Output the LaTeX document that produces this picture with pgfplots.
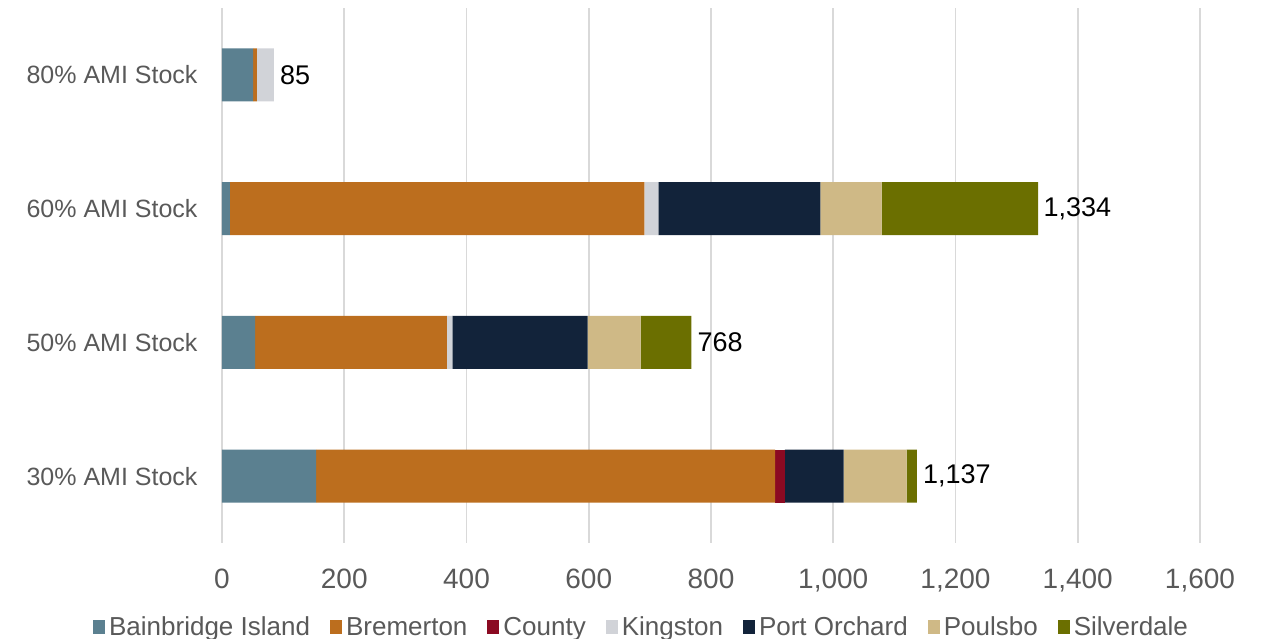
\documentclass[border=0pt]{standalone}
\usepackage{fontspec}
\setmainfont{Liberation Sans}
\usepackage{pgfplots}
\pgfplotsset{compat=1.18}
\definecolor{cBain}{HTML}{5B8090}
\definecolor{cBrem}{HTML}{BC6E1E}
\definecolor{cCounty}{HTML}{8B0A22}
\definecolor{cKing}{HTML}{D1D3D8}
\definecolor{cPort}{HTML}{12233A}
\definecolor{cPoul}{HTML}{CFB986}
\definecolor{cSilv}{HTML}{6B6F00}
\definecolor{txtgray}{HTML}{595959}
\definecolor{gridgray}{HTML}{D9D9D9}
\begin{document}
\begin{tikzpicture}
\useasboundingbox (-222pt,-96pt) rectangle (1048pt,543pt);
\begin{axis}[
  scale only axis, width=978pt, height=535pt,
  xbar stacked, bar width=53pt,
  xmin=0, xmax=1600, ymin=-0.5, ymax=3.5,
  xtick={0,200,...,1600},
  ytick={0,1,2,3},
  yticklabels={30\% AMI Stock,50\% AMI Stock,60\% AMI Stock,80\% AMI Stock},
  axis line style={draw=none},
  major tick length=0pt,
  xmajorgrids, grid style={gridgray, line width=1.6pt},
  /pgf/number format/1000 sep={,},
  /pgf/number format/assume math mode=true,
  xticklabel style={font=\fontsize{28}{32}\selectfont, text=txtgray, yshift=-22pt},
  yticklabel style={font=\fontsize{25}{30}\selectfont, text=txtgray, xshift=-21pt},
  legend columns=-1,
  legend style={draw=none, at={(0.429,-0.13)}, anchor=north,
    font=\fontsize{26}{30}\selectfont, text=txtgray,
    /tikz/every even column/.append style={column sep=18pt},
    /tikz/every odd column/.append style={column sep=2pt}},
  legend image code/.code={\fill[#1] (0pt,-7pt) rectangle (12pt,7pt);},
  every axis plot/.append style={draw=none},
]
\addplot[fill=cBain] coordinates {(154,0) (54,1) (13,2) (51,3)};
\addplot[fill=cBrem] coordinates {(751,0) (314,1) (678,2) (6,3)};
\addplot[fill=cCounty] coordinates {(16,0) (0,1) (0,2) (0,3)};
\addplot[fill=cKing] coordinates {(0,0) (9,1) (23,2) (28,3)};
\addplot[fill=cPort] coordinates {(96,0) (221,1) (265,2) (0,3)};
\addplot[fill=cPoul] coordinates {(103,0) (87,1) (100,2) (0,3)};
\addplot[fill=cSilv] coordinates {(17,0) (83,1) (256,2) (0,3)};
\legend{Bainbridge Island, Bremerton, County, Kingston, Port Orchard, Poulsbo, Silverdale}
\end{axis}
\begin{axis}[
  scale only axis, width=978pt, height=535pt,
  xmin=0, xmax=1600, ymin=-0.5, ymax=3.5,
  hide axis,
]
\addplot[only marks, mark=none,
  point meta=explicit symbolic,
  nodes near coords,
  every node near coord/.append style={anchor=west, text=black, inner sep=0pt,
    font=\fontsize{27}{30}\selectfont, xshift=6pt}]
  coordinates {(1137,0) [1,137] (768,1) [768] (1334,2) [1,334] (85,3) [85]};
\end{axis}
\end{tikzpicture}
\end{document}
